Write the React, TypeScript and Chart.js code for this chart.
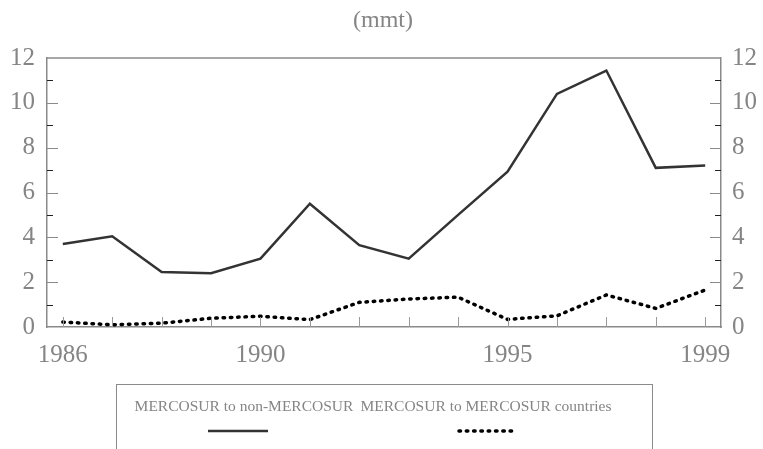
import { useEffect, useRef } from 'react';
import { Chart, registerables } from 'chart.js';

Chart.register(...registerables);

const years = [1986, 1987, 1988, 1989, 1990, 1991, 1992, 1993, 1994, 1995, 1996, 1997, 1998, 1999];
const nonMercosur = [3.7, 4.05, 2.45, 2.4, 3.05, 5.5, 3.65, 3.05, 5.0, 6.93, 10.4, 11.44, 7.1, 7.2];
const intraMercosur = [0.22, 0.1, 0.17, 0.39, 0.48, 0.33, 1.1, 1.25, 1.33, 0.34, 0.5, 1.43, 0.83, 1.65];
const xTickLabels = [1986, 1990, 1995, 1999];
const yTickValues = [0, 2, 4, 6, 8, 10, 12];
const seriesLabels = ['MERCOSUR to non-MERCOSUR', 'MERCOSUR to MERCOSUR countries'];
const unitTitle = '(mmt)';

const FONT = '"Liberation Serif", "Times New Roman", serif';
const TEXT = '#858585';

const decorPlugin = {
  id: 'decor',
  afterDraw(chart: any) {
    const { ctx, chartArea, scales } = chart;
    const { left, right, top, bottom } = chartArea;
    ctx.save();
    // top border
    ctx.strokeStyle = '#8a8a8a';
    ctx.lineWidth = 1.5;
    ctx.beginPath();
    ctx.moveTo(left, top);
    ctx.lineTo(right, top);
    ctx.stroke();
    // x inward ticks
    ctx.lineWidth = 1;
    ctx.strokeStyle = '#9a9a9a';
    years.forEach((yr) => {
      const x = Math.round(scales.x.getPixelForValue(yr)) + 0.5;
      ctx.beginPath();
      ctx.moveTo(x, bottom);
      ctx.lineTo(x, bottom - 10);
      ctx.stroke();
    });
    // y inward ticks
    for (let v = 1; v < 12; v++) {
      const y = Math.round(scales.y.getPixelForValue(v)) + 0.5;
      const even = v % 2 === 0;
      const len = even ? 11 : 6;
      ctx.strokeStyle = even ? '#8a8a8a' : '#222';
      ctx.beginPath();
      ctx.moveTo(left, y);
      ctx.lineTo(left + len, y);
      ctx.moveTo(right, y);
      ctx.lineTo(right - len, y);
      ctx.stroke();
    }
    // title
    ctx.fillStyle = TEXT;
    ctx.font = `24px ${FONT}`;
    ctx.textAlign = 'center';
    ctx.textBaseline = 'middle';
    ctx.fillText(unitTitle, 383, 21);
    // legend box
    ctx.strokeStyle = '#8a8a8a';
    ctx.lineWidth = 1;
    ctx.strokeRect(116.5, 384.5, 536, 80);
    ctx.font = `15.5px ${FONT}`;
    ctx.fillStyle = TEXT;
    ctx.textBaseline = 'alphabetic';
    ctx.fillText(seriesLabels[0], 244, 411);
    ctx.fillText(seriesLabels[1], 486, 411);
    // legend samples
    ctx.lineWidth = 2.5;
    ctx.strokeStyle = '#333';
    ctx.setLineDash([]);
    ctx.beginPath();
    ctx.moveTo(208, 431);
    ctx.lineTo(268, 431);
    ctx.stroke();
    ctx.lineWidth = 3.5;
    ctx.strokeStyle = '#000';
    ctx.lineCap = 'round';
    ctx.setLineDash([1.5, 5.8]);
    ctx.beginPath();
    ctx.moveTo(459, 431);
    ctx.lineTo(516, 431);
    ctx.stroke();
    ctx.restore();
  },
};

export default function App() {
  const ref = useRef<HTMLCanvasElement | null>(null);
  useEffect(() => {
    document.body.style.margin = '0';
    const canvas = ref.current;
    if (!canvas) return;
    const tickFont = { family: FONT, size: 25 };
    const chart = new Chart(canvas, {
      type: 'line',
      data: {
        datasets: [
          {
            label: seriesLabels[0],
            data: years.map((x, i) => ({ x, y: nonMercosur[i] })),
            borderColor: '#333333',
            borderWidth: 2.5,
            pointRadius: 0,
            tension: 0,
            yAxisID: 'y',
          },
          {
            label: seriesLabels[1],
            data: years.map((x, i) => ({ x, y: intraMercosur[i] })),
            borderColor: '#000000',
            borderWidth: 3.5,
            borderDash: [1.5, 5.8],
            borderCapStyle: 'round',
            pointRadius: 0,
            tension: 0,
            yAxisID: 'y',
          },
        ],
      },
      plugins: [decorPlugin],
      options: {
        responsive: false,
        animation: false,
        layout: { padding: { top: 58, bottom: 82, left: 0, right: 0 } },
        plugins: {
          legend: { display: false },
          title: { display: false },
          tooltip: { enabled: false },
        },
        scales: {
          x: {
            type: 'linear',
            position: 'bottom',
            min: 1985.68,
            max: 1999.32,
            grid: { display: false },
            border: { display: true, color: '#8a8a8a', width: 1.5 },
            ticks: { font: tickFont, color: TEXT, padding: 5, callback: (v: any) => String(v) },
            afterBuildTicks: (scale: any) => {
              scale.ticks = xTickLabels.map((v) => ({ value: v }));
            },
            afterFit: (scale: any) => {
              scale.height = 40;
            },
          },
          y: {
            type: 'linear',
            position: 'left',
            min: 0,
            max: 12,
            grid: { display: false },
            border: { display: true, color: '#8a8a8a', width: 1.5 },
            ticks: { font: tickFont, color: TEXT, padding: 4 },
            afterBuildTicks: (scale: any) => {
              scale.ticks = yTickValues.map((v) => ({ value: v }));
            },
            afterFit: (scale: any) => {
              scale.width = 47;
            },
          },
          y2: {
            type: 'linear',
            position: 'right',
            min: 0,
            max: 12,
            grid: { display: false },
            border: { display: true, color: '#8a8a8a', width: 1.5 },
            ticks: { font: tickFont, color: TEXT, padding: 3 },
            afterBuildTicks: (scale: any) => {
              scale.ticks = yTickValues.map((v) => ({ value: v }));
            },
            afterFit: (scale: any) => {
              scale.width = 42;
            },
          },
        },
      },
    } as any);
    return () => chart.destroy();
  }, []);
  return (
    <div style={{ width: 763, height: 449, position: 'relative' }}>
      <canvas ref={ref} width={763} height={449} style={{ display: 'block' }} />
    </div>
  );
}
